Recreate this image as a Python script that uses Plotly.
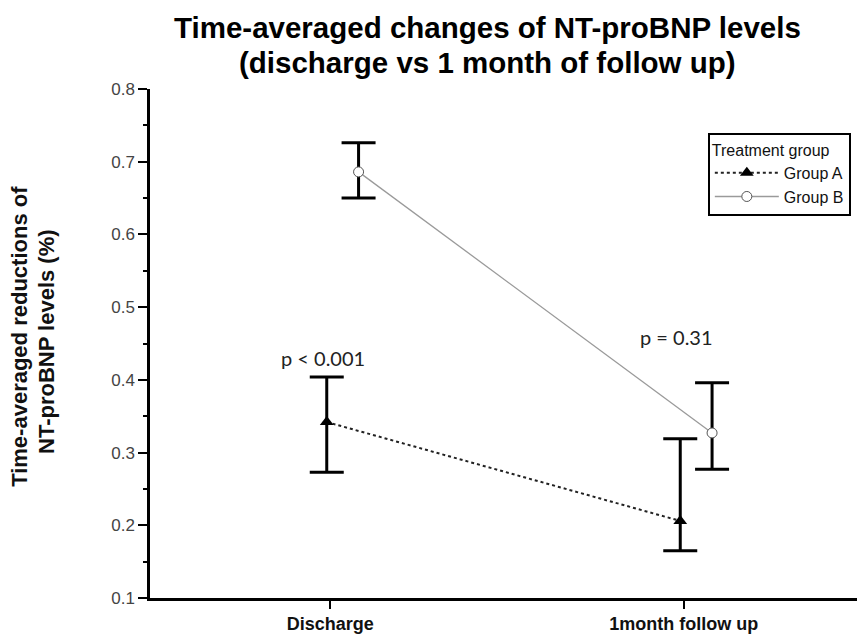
import plotly.graph_objects as go

categories = ["Discharge", "1month follow up"]
cat_pos = [0, 1]

group_a_mean = [0.342, 0.206]
group_a_upper = [0.404, 0.319]
group_a_lower = [0.273, 0.165]

group_b_mean = [0.686, 0.327]
group_b_upper = [0.726, 0.396]
group_b_lower = [0.650, 0.277]

y_ticks = [0.1, 0.2, 0.3, 0.4, 0.5, 0.6, 0.7, 0.8]
p_labels = ["p < 0.001", "p = 0.31"]
p_label_y = [0.430, 0.459]

title_lines = ["Time-averaged changes of NT-proBNP levels",
               "(discharge vs 1 month of follow up)"]
ytitle_lines = ["Time-averaged reductions of", "NT-proBNP levels (%)"]

offset_a = -0.01
offset_b = 0.08

xa = [p + offset_a for p in cat_pos]
xb = [p + offset_b for p in cat_pos]

fig = go.Figure()

fig.add_trace(go.Scatter(
    x=xa, y=group_a_mean, name="Group A", mode="lines+markers",
    line=dict(color="#222222", width=2, dash="dot"),
    marker=dict(symbol="triangle-up", size=12, color="black"),
    error_y=dict(type="data", symmetric=False,
                 array=[u - m for u, m in zip(group_a_upper, group_a_mean)],
                 arrayminus=[m - l for m, l in zip(group_a_mean, group_a_lower)],
                 color="black", thickness=3, width=17),
))
fig.add_trace(go.Scatter(
    x=xb, y=group_b_mean, name="Group B", mode="lines+markers",
    line=dict(color="#9a9a9a", width=1.3),
    marker=dict(symbol="circle", size=10, color="white",
                line=dict(color="#555555", width=1)),
    error_y=dict(type="data", symmetric=False,
                 array=[u - m for u, m in zip(group_b_upper, group_b_mean)],
                 arrayminus=[m - l for m, l in zip(group_b_mean, group_b_lower)],
                 color="black", thickness=3, width=17),
))

for xc, txt, yy in zip(cat_pos, p_labels, p_label_y):
    fig.add_annotation(x=xc - 0.02, y=yy, text=txt, showarrow=False,
                       font=dict(family="Lato, Open Sans, sans-serif", size=20, color="#222222"),
                       xanchor="center", yanchor="middle")

# title (two lines)
for txt, yp in zip(title_lines, [1.12, 1.053]):
    fig.add_annotation(xref="paper", yref="paper", x=0.478, y=yp, text="<b>%s</b>" % txt,
                       showarrow=False, xanchor="center", yanchor="middle",
                       font=dict(family="Liberation Sans, Arial, sans-serif", size=29.5, color="black"))

# y-axis title (two lines, rotated)
for txt, xp, yp in zip(ytitle_lines, [-0.1839, -0.1457], [0.515, 0.505]):
    fig.add_annotation(xref="paper", yref="paper", x=xp, y=yp, text="<b>%s</b>" % txt,
                       showarrow=False, xanchor="center", yanchor="middle", textangle=-90,
                       font=dict(family="Liberation Sans, Arial, sans-serif", size=22, color="#111111"))

fig.update_layout(
    width=857, height=639,
    margin=dict(l=150, r=0, t=89, b=41),
    paper_bgcolor="white", plot_bgcolor="white",
    font=dict(family="Liberation Sans, Arial, sans-serif", color="#333333"),
    showlegend=True,
    legend=dict(
        x=0.789, y=0.9136, xanchor="left", yanchor="top",
        bordercolor="black", borderwidth=2, bgcolor="white",
        title=dict(text="Treatment group", font=dict(size=16, color="#111111")),
        font=dict(size=16, color="#111111"),
        tracegroupgap=0, itemwidth=64,
    ),
)

fig.update_xaxes(
    range=[-0.51, 1.49], tickmode="array", tickvals=cat_pos,
    ticktext=["<b>%s</b>" % c for c in categories],
    showgrid=False, zeroline=False, showline=True, linecolor="black", linewidth=2.5,
    ticks="outside", ticklen=8, tickwidth=2, tickcolor="black",
    tickfont=dict(size=18, color="#111111"),
)
fig.update_yaxes(
    range=[0.1, 0.8], tickmode="array", tickvals=y_ticks,
    ticktext=["%.1f" % v for v in y_ticks],
    showgrid=False, zeroline=False, showline=True, linecolor="black", linewidth=2.5,
    ticks="outside", ticklen=9, tickwidth=2, tickcolor="black",
    tickfont=dict(size=17, color="#444444"),
    minor=dict(dtick=0.05, tick0=0.05, ticks="outside", ticklen=4, tickwidth=1.5, tickcolor="black"),
)

fig.write_html("out.html", config={"displayModeBar": False},
               post_script="document.body.style.margin='0';document.body.style.padding='0';")
